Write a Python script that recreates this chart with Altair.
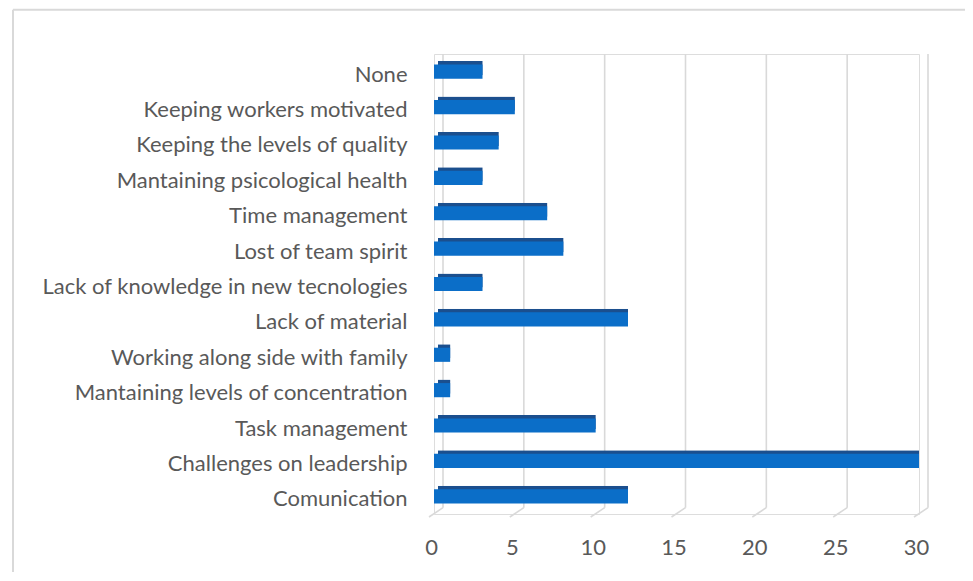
import altair as alt
import pandas as pd

categories = [
    "None",
    "Keeping workers motivated",
    "Keeping the levels of quality",
    "Mantaining psicological health",
    "Time management",
    "Lost of team spirit",
    "Lack of knowledge in new tecnologies",
    "Lack of material",
    "Working along side with family",
    "Mantaining levels of concentration",
    "Task management",
    "Challenges on leadership",
    "Comunication",
]
values = [3, 5, 4, 3, 7, 8, 3, 12, 1, 1, 10, 30, 12]
tick_values = [0, 5, 10, 15, 20, 25, 30]

df = pd.DataFrame({"cat": categories, "val": values})
ticks_df = pd.DataFrame({"t": tick_values})
one = pd.DataFrame({"a": [0]})

W, H = 485, 460
PX = W / 30.0  # pixels per unit, used only for the 3-D depth offset of gridlines

FONT = "Lato"
TXT = "#595959"
GRID = "#D9D9D9"
xscale = alt.Scale(domain=[0, 30], nice=False, zero=True)
yscale = alt.Scale(paddingInner=0.6, paddingOuter=0.3)

xaxis = alt.Axis(values=tick_values, domain=False, ticks=False, grid=False, title=None,
                 labelFont=FONT, labelFontSize=22, labelColor=TXT, labelFlush=False,
                 labelBaseline="middle", labelPadding=33, labelOffset=-3)
yaxis = alt.Axis(domain=False, ticks=False, grid=False, title=None,
                 labelFont=FONT, labelFontSize=22, labelColor=TXT,
                 labelBaseline="middle", labelPadding=27, labelOffset=3, labelLimit=500)

grid_base = alt.Chart(ticks_df).transform_calculate(
    back=f"datum.t + {9 / PX}", front=f"datum.t - {5 / PX}"
)
grid_v = grid_base.mark_rule(color=GRID, strokeWidth=1.6).encode(
    x=alt.X("back:Q", scale=xscale, axis=xaxis),
    y=alt.value(0),
    y2=alt.value(453.7),
)
grid_d = grid_base.mark_rule(color=GRID, strokeWidth=1.6).encode(
    x=alt.X("back:Q", scale=xscale),
    x2="front:Q",
    y=alt.value(453.7),
    y2=alt.value(463),
)
axis_holder = alt.Chart(ticks_df).mark_point(opacity=0).encode(
    x=alt.X("t:Q", scale=xscale, axis=xaxis),
)

bar_back = alt.Chart(df).mark_bar(color="#1B4F8E", xOffset=4, x2Offset=4, yOffset=-3.5, y2Offset=-3.5,
                                  cornerRadiusTopLeft=2).encode(
    y=alt.Y("cat:N", sort=categories, scale=yscale, axis=yaxis),
    x=alt.X("val:Q", scale=xscale),
)
bar_front = alt.Chart(df).mark_bar(color="#0B6EC8").encode(
    y=alt.Y("cat:N", sort=categories, scale=yscale),
    x=alt.X("val:Q", scale=xscale),
)

border_top = alt.Chart(one).mark_rule(color=GRID, strokeWidth=2).encode(
    x=alt.value(-421), x2=alt.value(600), y=alt.value(-44.3)
)
border_left = alt.Chart(one).mark_rule(color=GRID, strokeWidth=2).encode(
    x=alt.value(-421), y=alt.value(-44.3), y2=alt.value(600)
)

chart = alt.layer(border_top, border_left, grid_v, grid_d, axis_holder, bar_back, bar_front).properties(
    width=W,
    height=H,
    autosize=alt.AutoSizeParams(type="none"),
    padding={"left": 426, "top": 46, "right": 46, "bottom": 58},
).configure_view(stroke=None).configure(background="white")

chart.save("out.html", embed_options={"renderer": "svg", "actions": False})
